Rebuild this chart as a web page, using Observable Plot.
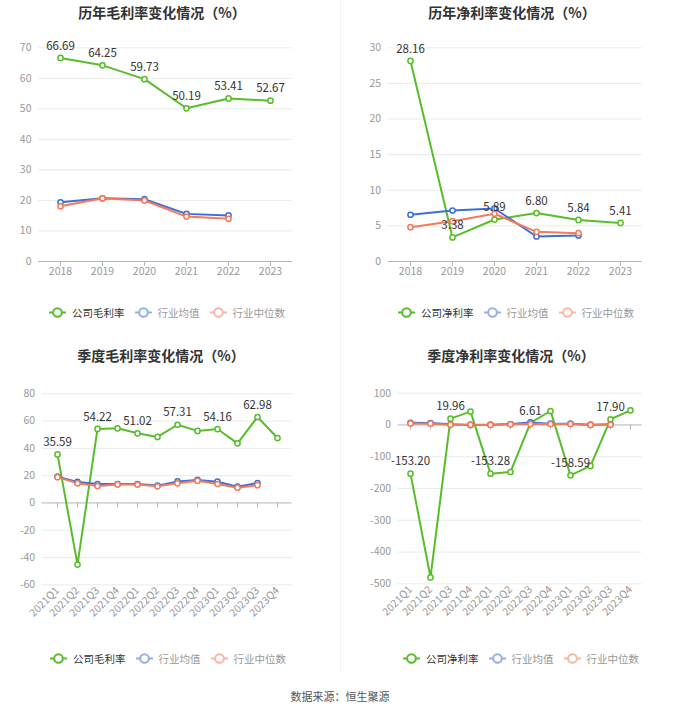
<!DOCTYPE html>
<html><head><meta charset="utf-8">
<script src="https://cdn.jsdelivr.net/npm/d3@7"></script>
<script src="https://cdn.jsdelivr.net/npm/@observablehq/plot@0.6"></script>
<style>
body{margin:0;background:#fff;font-family:"Noto Sans CJK SC","Noto Sans",sans-serif;}
#root{position:relative;width:680px;height:712px;overflow:hidden;background:#fff;}
.title{position:absolute;transform:translate(-50%,-50%);font-size:14px;font-weight:bold;color:#333;white-space:nowrap;}
.legend{position:absolute;transform:translate(-50%,-50%);display:flex;align-items:center;font-size:10.5px;white-space:nowrap;}
.legend .item{display:flex;align-items:center;margin:0 5px;}
.legend svg{margin-right:6px;}
.plot{position:absolute;}
.source{position:absolute;left:340px;top:696px;transform:translate(-50%,-50%);font-size:11px;color:#555;white-space:nowrap;}
.divider{position:absolute;left:340px;top:0;width:1px;height:672px;background:#f2f2f2;}
</style>
</head><body><div id="root"></div>
<script>
// ---- data ----
const years = ["2018","2019","2020","2021","2022","2023"];
const quarters = ["2021Q1","2021Q2","2021Q3","2021Q4","2022Q1","2022Q2","2022Q3","2022Q4","2023Q1","2023Q2","2023Q3","2023Q4"];

const annualGross = [66.69,64.25,59.73,50.19,53.41,52.67];
const annualGrossAvg = [19.4,20.7,20.4,15.6,15.1];
const annualGrossMed = [18.1,20.7,20.0,14.7,14.0];

const annualNet = [28.16,3.38,5.89,6.80,5.84,5.41];
const annualNetAvg = [6.56,7.16,7.44,3.51,3.65];
const annualNetMed = [4.82,5.66,6.70,4.17,3.98];

const qGross = [35.59,-45.2,54.22,54.7,51.02,48.4,57.31,52.8,54.16,43.7,62.98,47.6];
const qGrossAvg = [19.3,15.4,13.9,13.9,13.9,12.7,15.8,16.9,15.6,11.9,14.6];
const qGrossMed = [18.9,14.4,12.4,13.6,13.5,12.2,14.4,16.2,13.9,11.2,13.0];

const qNet = [-153.20,-480,19.96,42,-153.28,-148,6.61,44,-158.59,-129,17.90,46];
const qNetAvg = [7,6,2,0,1,3,8,4,4,1,2];
const qNetMed = [5,4,1,1,0,2,3,3,3,0,1];

const annualLabelIdx = [0,1,2,3,4,5];
const quarterLabelIdx = [0,2,4,6,8,10];

const titles = ["历年毛利率变化情况（%）","历年净利率变化情况（%）","季度毛利率变化情况（%）","季度净利率变化情况（%）"];
const legendNames = [["公司毛利率","行业均值","行业中位数"],["公司净利率","行业均值","行业中位数"],["公司毛利率","行业均值","行业中位数"],["公司净利率","行业均值","行业中位数"]];
const sourceText = "数据来源：恒生聚源";

const colors = {main:"#58bd2b", avg:"#3f6fd6", med:"#f27b5b"};

// ---- helpers ----
const root = document.getElementById("root");
const fmt = v => v.toFixed(2);
function rows(cats, arr){ return arr.map((v,i)=>({c:cats[i], v})).filter(d=>d.v!=null); }

function chart(o){
  const main = rows(o.cats, o.main), avg = rows(o.cats, o.avg), med = rows(o.cats, o.med);
  const labeled = o.labelIdx.map(i=>main[i]);
  const p = Plot.plot({
    width:340, height:o.height,
    marginLeft:o.ml, marginRight:o.mr, marginTop:o.mt, marginBottom:o.mb,
    style:{fontFamily:'"Noto Sans CJK SC","Noto Sans",sans-serif', background:"transparent"},
    x:{type:"point", domain:o.cats, padding:0.5, axis:null},
    y:{domain:o.yDomain, axis:null},
    marks:[
      Plot.gridY(o.yTicks.filter(t=>t!==0), {stroke:"#ebebeb", strokeOpacity:1}),
      Plot.axisY(o.yTicks, {tickSize:0, tickPadding:7, fill:"#999", fontSize:10.5, tickFormat:d=>String(d), label:null}),
      Plot.ruleY([0], {stroke:"#b5b5b5", strokeWidth:1}),
      Plot.ruleX(o.cats, {x:d=>d, y1:0, y2:0, insetBottom:-5, stroke:"#b5b5b5"}),
      Plot.axisX(o.cats, {tickSize:0, tickPadding:o.rotate?4:6, tickRotate:o.rotate?-45:0, fill:"#999", fontSize:10.5, label:null}),
      Plot.line(main, {x:"c", y:"v", stroke:colors.main, strokeWidth:2}),
      Plot.line(avg, {x:"c", y:"v", stroke:colors.avg, strokeWidth:2}),
      Plot.line(med, {x:"c", y:"v", stroke:colors.med, strokeWidth:2}),
      Plot.dot(main, {x:"c", y:"v", r:2.6, stroke:colors.main, fill:"white", strokeWidth:1.5}),
      Plot.dot(avg, {x:"c", y:"v", r:2.6, stroke:colors.avg, fill:"white", strokeWidth:1.5}),
      Plot.dot(med, {x:"c", y:"v", r:2.6, stroke:colors.med, fill:"white", strokeWidth:1.5}),
      Plot.text(labeled, {x:"c", y:"v", text:d=>fmt(d.v), dy:-12, fill:"#333", fontSize:11.5})
    ]
  });
  p.classList.add("plot");
  p.style.left = o.left+"px"; p.style.top = o.top+"px";
  root.appendChild(p);
}

function title(text, x, y){
  const d = document.createElement("div"); d.className="title"; d.textContent=text;
  d.style.left=x+"px"; d.style.top=y+"px"; root.appendChild(d);
}
function legend(names, x, y){
  const d = document.createElement("div"); d.className="legend";
  d.style.left=x+"px"; d.style.top=y+"px";
  const cs=[colors.main, colors.avg, colors.med];
  names.forEach((n,i)=>{
    const it=document.createElement("div"); it.className="item";
    const op = i===0?1:0.55;
    it.innerHTML=`<svg width="17" height="12"><g opacity="${op}"><line x1="0" y1="6" x2="17" y2="6" stroke="${cs[i]}" stroke-width="2"/><circle cx="8.5" cy="6" r="4.3" fill="white" stroke="${cs[i]}" stroke-width="2"/></g></svg><span style="color:${i===0?'#333':'#999'}">${n}</span>`;
    d.appendChild(it);
  });
  root.appendChild(d);
}

const div = document.createElement("div"); div.className="divider"; root.appendChild(div);

chart({cats:years, main:annualGross, avg:annualGrossAvg, med:annualGrossMed, labelIdx:annualLabelIdx,
  yDomain:[0,70], yTicks:[0,10,20,30,40,50,60,70], left:0, top:0, height:290, ml:38, mr:48, mt:47.3, mb:29});
chart({cats:years, main:annualNet, avg:annualNetAvg, med:annualNetMed, labelIdx:annualLabelIdx,
  yDomain:[0,30], yTicks:[0,5,10,15,20,25,30], left:340, top:0, height:290, ml:47.7, mr:38.3, mt:47.3, mb:29});
chart({cats:quarters, main:qGross, avg:qGrossAvg, med:qGrossMed, labelIdx:quarterLabelIdx, rotate:true,
  yDomain:[-60,80], yTicks:[-60,-40,-20,0,20,40,60,80], left:0, top:340, height:300, ml:41.7, mr:48.3, mt:53.3, mb:55.7});
chart({cats:quarters, main:qNet, avg:qNetAvg, med:qNetMed, labelIdx:quarterLabelIdx, rotate:true,
  yDomain:[-500,100], yTicks:[-500,-400,-300,-200,-100,0,100], left:340, top:340, height:300, ml:57.7, mr:38.3, mt:52.7, mb:56.7});

title(titles[0],162,12); title(titles[1],512,12); title(titles[2],161,355); title(titles[3],511,355);
legend(legendNames[0],167,312); legend(legendNames[1],516,312); legend(legendNames[2],168,658); legend(legendNames[3],521,658);

const s=document.createElement("div"); s.className="source"; s.textContent=sourceText; root.appendChild(s);
</script>
</body></html>
